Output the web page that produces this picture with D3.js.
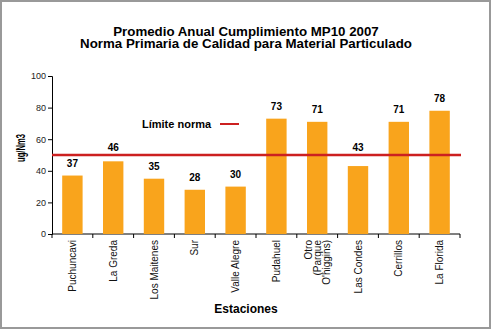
<!DOCTYPE html>
<html><head><meta charset="utf-8">
<script src="https://cdn.jsdelivr.net/npm/d3@7"></script>
<style>body{margin:0;background:#fff}svg{display:block;font-family:"Liberation Sans",Arial,sans-serif}</style>
</head><body>
<script>
const titleLines = ["Promedio Anual Cumplimiento MP10 2007", "Norma Primaria de Calidad para Material Particulado"];
const categories = ["Puchuncavi", "La Greda", "Los Maitenes", "Sur", "Valle Alegre", "Pudahuel", "Otro\n(Parque\nO'higgins)", "Las Condes", "Cerrillos", "La Florida"];
const values = [37, 46, 35, 28, 30, 73, 71, 43, 71, 78];
const yTicks = [0, 20, 40, 60, 80, 100];
const limitValue = 50;
const limitLabel = "Límite norma";
const yTitle = "ug/Nm3";
const xTitle = "Estaciones";

(function () {
const W = 491, H = 329;
const svg = d3.select("body").append("svg").attr("width", W).attr("height", H);
svg.append("rect").attr("x", 1).attr("y", 1).attr("width", W - 2).attr("height", H - 2)
  .attr("fill", "#fff").attr("stroke", "#999").attr("stroke-width", 2);

const pLeft = 52, pRight = 460, pTop = 76, pBottom = 234;
const x = d3.scaleBand().domain(categories).range([pLeft, pRight]).paddingInner(0.5).paddingOuter(0.25);
const y = d3.scaleLinear().domain([0, 100]).range([pBottom, pTop]);

svg.selectAll("text.title").data(titleLines).join("text")
  .attr("x", 246).attr("y", (d, i) => 36 + i * 11.5)
  .attr("text-anchor", "middle").attr("font-weight", "bold").attr("font-size", 13.3).text(d => d);

// y axis
const yAxis = svg.append("g").attr("transform", `translate(${pLeft},0)`)
  .call(d3.axisLeft(y).tickValues(yTicks).tickSize(4).tickPadding(2));
yAxis.select(".domain").attr("stroke", "#000");
yAxis.selectAll("text").attr("font-size", 9).attr("fill", "#222").attr("font-family", "Liberation Sans, Arial");

// x axis line + boundary ticks
svg.append("line").attr("x1", pLeft).attr("x2", pRight).attr("y1", pBottom).attr("y2", pBottom).attr("stroke", "#000");
const bounds = categories.map(c => x(c) - x.step() * x.paddingInner() / 2).concat([pRight]);
bounds[0] = pLeft;
svg.selectAll("line.xt").data(bounds).join("line")
  .attr("x1", d => d).attr("x2", d => d).attr("y1", pBottom).attr("y2", pBottom + 4).attr("stroke", "#000");

// bars
svg.selectAll("rect.bar").data(values).join("rect")
  .attr("x", (d, i) => x(categories[i])).attr("width", x.bandwidth())
  .attr("y", d => y(d)).attr("height", d => pBottom - y(d)).attr("fill", "#F9A41C");

// value labels (moved above the limit line when they would sit on it)
const yl = y(limitValue);
svg.selectAll("text.val").data(values).join("text")
  .attr("x", (d, i) => x(categories[i]) + x.bandwidth() / 2)
  .attr("y", d => { const b = y(d) - 9; return (b > yl - 3 && b < yl + 10) ? yl - 4 : b; })
  .attr("text-anchor", "middle").attr("font-weight", "bold").attr("font-size", 10).text(d => d);

// limit line
svg.append("line").attr("x1", pLeft).attr("x2", pRight + 1).attr("y1", yl).attr("y2", yl)
  .attr("stroke", "#CC2020").attr("stroke-width", 2.5);

// legend
svg.append("text").attr("x", 142).attr("y", 128).attr("font-weight", "bold").attr("font-size", 11).text(limitLabel);
svg.append("line").attr("x1", 220).attr("x2", 239).attr("y1", 124).attr("y2", 124).attr("stroke", "#CC2020").attr("stroke-width", 2);

// x labels
categories.forEach((c, i) => {
  const lines = c.split("\n");
  const cx = x(c) + x.bandwidth() / 2;
  const t = svg.append("text").attr("transform", `translate(${cx},240) rotate(-90)`)
    .attr("text-anchor", "end").attr("font-size", 10).attr("fill", "#111");
  const n = lines.length;
  lines.forEach((l, j) => {
    t.append("tspan").attr("x", 0).attr("y", (j - (n - 1) / 2) * 9 + 3.5).text(l);
  });
});

// axis titles
svg.append("text").attr("transform", `translate(25,148) rotate(-90)`).attr("text-anchor", "middle")
  .attr("font-weight", "bold").attr("font-size", 13).attr("textLength", 28).attr("lengthAdjust", "spacingAndGlyphs").text(yTitle);
svg.append("text").attr("x", 246).attr("y", 313).attr("text-anchor", "middle")
  .attr("font-weight", "bold").attr("font-size", 12).text(xTitle);
})();
</script>
</body></html>
